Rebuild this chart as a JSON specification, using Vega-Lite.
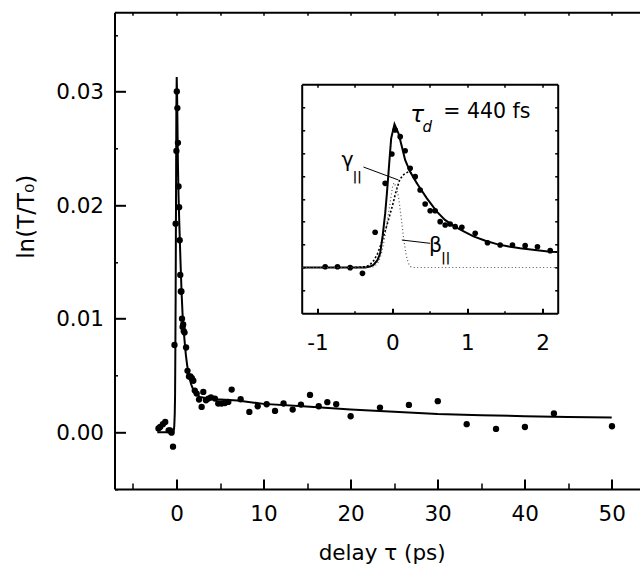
{
  "$schema": "https://vega.github.io/schema/vega-lite/v6.json",
  "autosize": {"type": "none"},
  "padding": {"left": 114.5, "top": 12.3, "right": 0, "bottom": 76},
  "width": 525.5,
  "height": 476.7,
  "background": "white",
  "config": {
    "view": {"stroke": null},
    "axis": {"grid": false, "labelFont": "DejaVu Sans", "labelFontSize": 21.5, "labelColor": "black", "tickColor": "black", "domainColor": "black", "titleFont": "DejaVu Sans", "titleFontSize": 21.5, "titleFontWeight": "normal", "titleColor": "black", "labelFlush": false, "labelOverlap": false, "domainWidth": 2, "tickWidth": 2}
  },
  "datasets": {
    "pts": [
      {"t": -2.07, "v": 0.00033}, {"t": -1.87, "v": 0.00047}, {"t": -1.56, "v": 0.00071}, {"t": -1.29, "v": 0.00091},
      {"t": -0.897, "v": 0.00017}, {"t": -0.733, "v": 0.00017}, {"t": -0.564, "v": -0.00004}, {"t": -0.4, "v": -0.00127},
      {"t": -0.231, "v": 0.00769}, {"t": -0.097, "v": 0.01838}, {"t": -0.008, "v": 0.02478}, {"t": 0.036, "v": 0.03002},
      {"t": 0.103, "v": 0.02856}, {"t": 0.169, "v": 0.0255}, {"t": 0.236, "v": 0.02166}, {"t": 0.303, "v": 0.01983},
      {"t": 0.369, "v": 0.01692}, {"t": 0.436, "v": 0.01386}, {"t": 0.503, "v": 0.0124}, {"t": 0.569, "v": 0.0124},
      {"t": 0.636, "v": 0.01}, {"t": 0.703, "v": 0.00928}, {"t": 0.769, "v": 0.0095}, {"t": 0.836, "v": 0.00891},
      {"t": 0.925, "v": 0.00878}, {"t": 1.103, "v": 0.00747}, {"t": 1.267, "v": 0.00541}, {"t": 1.436, "v": 0.00491},
      {"t": 1.6, "v": 0.00491}, {"t": 1.769, "v": 0.00476}, {"t": 1.933, "v": 0.00454}, {"t": 2.103, "v": 0.00367},
      {"t": 2.32, "v": 0.00341}, {"t": 2.59, "v": 0.00288}, {"t": 2.89, "v": 0.00223}, {"t": 3.08, "v": 0.00355},
      {"t": 3.39, "v": 0.00282}, {"t": 3.66, "v": 0.00297}, {"t": 3.96, "v": 0.00306}, {"t": 4.42, "v": 0.00297},
      {"t": 4.8, "v": 0.00253}, {"t": 5.19, "v": 0.00253}, {"t": 5.57, "v": 0.00258}, {"t": 5.95, "v": 0.00267},
      {"t": 6.34, "v": 0.00376}, {"t": 7.37, "v": 0.00291}, {"t": 8.37, "v": 0.00179}, {"t": 9.33, "v": 0.00229},
      {"t": 10.36, "v": 0.00247}, {"t": 11.32, "v": 0.00188}, {"t": 12.3, "v": 0.00253}, {"t": 13.35, "v": 0.002},
      {"t": 14.3, "v": 0.00244}, {"t": 15.34, "v": 0.00329}, {"t": 16.34, "v": 0.00229}, {"t": 17.33, "v": 0.00265},
      {"t": 18.35, "v": 0.00247}, {"t": 20.01, "v": 0.00141}, {"t": 23.38, "v": 0.00217}, {"t": 26.7, "v": 0.00241},
      {"t": 30.02, "v": 0.00274}, {"t": 33.34, "v": 0.00071}, {"t": 36.71, "v": 0.00029}, {"t": 40.03, "v": 0.00046},
      {"t": 43.36, "v": 0.00165}, {"t": 50.03, "v": 0.00053}
    ],
    "fit": [
      {"t": -2.2, "v": 0}, {"t": -1.2, "v": 0}, {"t": -0.36, "v": 0}, {"t": -0.3, "v": 0.0002},
      {"t": -0.253, "v": 0.00055}, {"t": -0.2, "v": 0.0016}, {"t": -0.164, "v": 0.0031}, {"t": -0.13, "v": 0.007},
      {"t": -0.097, "v": 0.0118}, {"t": -0.075, "v": 0.016}, {"t": -0.053, "v": 0.0206}, {"t": -0.035, "v": 0.0245},
      {"t": -0.017, "v": 0.0282}, {"t": 0.027, "v": 0.0313}, {"t": 0.08, "v": 0.0293}, {"t": 0.125, "v": 0.0264},
      {"t": 0.169, "v": 0.0235}, {"t": 0.236, "v": 0.0209}, {"t": 0.325, "v": 0.0184}, {"t": 0.459, "v": 0.0151},
      {"t": 0.592, "v": 0.0122}, {"t": 0.7, "v": 0.0104}, {"t": 0.813, "v": 0.0091}, {"t": 0.95, "v": 0.0079},
      {"t": 1.08, "v": 0.0068}, {"t": 1.23, "v": 0.0059}, {"t": 1.392, "v": 0.0051}, {"t": 1.55, "v": 0.0046},
      {"t": 1.703, "v": 0.0042}, {"t": 1.9, "v": 0.0038}, {"t": 2.103, "v": 0.00345}, {"t": 2.2, "v": 0.0034},
      {"t": 2.7, "v": 0.0031}, {"t": 3.5, "v": 0.003}, {"t": 4.6, "v": 0.0029}, {"t": 7, "v": 0.0028},
      {"t": 10, "v": 0.0025}, {"t": 14.5, "v": 0.0023}, {"t": 20, "v": 0.002}, {"t": 25, "v": 0.0018},
      {"t": 30, "v": 0.0016}, {"t": 35, "v": 0.0015}, {"t": 40, "v": 0.00142}, {"t": 45, "v": 0.00135},
      {"t": 50, "v": 0.0013}
    ],
    "gamma": [
      {"t": -0.5, "v": 0}, {"t": -0.35, "v": 0.0002}, {"t": -0.3, "v": 0.0006}, {"t": -0.25, "v": 0.0015},
      {"t": -0.2, "v": 0.003}, {"t": -0.15, "v": 0.0052}, {"t": -0.1, "v": 0.0078}, {"t": -0.05, "v": 0.0106},
      {"t": 0, "v": 0.0135}, {"t": 0.05, "v": 0.0168}, {"t": 0.1, "v": 0.0193}, {"t": 0.15, "v": 0.0203},
      {"t": 0.2, "v": 0.0208}, {"t": 0.24, "v": 0.0208}, {"t": 0.325, "v": 0.0184}
    ],
    "beta": [
      {"t": -1.2, "v": 0}, {"t": -0.3, "v": 0}, {"t": -0.25, "v": 0.0002}, {"t": -0.2, "v": 0.0008},
      {"t": -0.15, "v": 0.0028}, {"t": -0.1, "v": 0.0067}, {"t": -0.05, "v": 0.0122}, {"t": 0, "v": 0.0175},
      {"t": 0.02, "v": 0.0185}, {"t": 0.05, "v": 0.0176}, {"t": 0.08, "v": 0.0155}, {"t": 0.1, "v": 0.013},
      {"t": 0.125, "v": 0.0097}, {"t": 0.15, "v": 0.0062}, {"t": 0.183, "v": 0.0027}, {"t": 0.21, "v": 0.001},
      {"t": 0.24, "v": 0.0002}, {"t": 0.27, "v": 0}, {"t": 2.2, "v": 0}
    ],
    "leaders": [
      {"t": -0.387, "v": 0.02194, "t2": 0.08, "v2": 0.0191},
      {"t": 0.125, "v": 0.006, "t2": 0.503, "v2": 0.00528}
    ],
    "names": [
      {"t": -0.6, "v": 0.0232, "s": "γ"},
      {"t": 0.575, "v": 0.0048, "s": "β"},
      {"t": 1.259, "v": 0.03395, "s": "= 440 fs"}
    ],
    "subs": [
      {"t": -0.47, "v": 0.0198, "s": "||"},
      {"t": 0.71, "v": 0.0020, "s": "||"}
    ],
    "tau": [{"t": 0.33, "v": 0.0333, "s": "τ"}],
    "tausub": [{"t": 0.465, "v": 0.0306, "s": "d"}]
  },
  "resolve": {"scale": {"x": "independent", "y": "independent"}, "axis": {"x": "independent", "y": "independent"}},
  "layer": [
    {
      "data": {"name": "pts"},
      "mark": {"type": "circle", "size": 40, "color": "black", "opacity": 1},
      "encoding": {
        "x": {"field": "t", "type": "quantitative", "scale": {"domain": [-7.12, 53.25], "nice": false, "zero": false},
          "axis": {"orient": "bottom", "values": [0, 10, 20, 30, 40, 50], "tickSize": -10, "labelPadding": 24, "title": "delay τ (ps)", "titleX": 267.2, "titleY": 70, "titleBaseline": "alphabetic", "titleAlign": "center"}},
        "y": {"field": "v", "type": "quantitative", "scale": {"domain": [-0.005, 0.037], "nice": false, "zero": false},
          "axis": {"orient": "left", "values": [0, 0.01, 0.02, 0.03], "format": ".2f", "tickSize": -11, "labelPadding": 22, "labelOffset": 1, "title": "ln(T/T₀)", "titleFontSize": 23, "titleX": -81.5, "titleY": 204, "titleBaseline": "alphabetic", "titleAlign": "center", "titleAngle": -90}}
      }
    },
    {
      "data": {"name": "fit"},
      "mark": {"type": "line", "color": "black", "strokeWidth": 2},
      "encoding": {
        "x": {"field": "t", "type": "quantitative", "scale": {"domain": [-7.12, 53.25], "nice": false, "zero": false},
          "axis": {"orient": "bottom", "values": [-5, 5, 15, 25, 35, 45], "tickSize": -6, "tickWidth": 1.5, "labels": false, "domain": false, "title": null}},
        "y": {"field": "v", "type": "quantitative", "scale": {"domain": [-0.005, 0.037], "nice": false, "zero": false},
          "axis": {"orient": "left", "values": [-0.005, 0.005, 0.015, 0.025, 0.035], "tickSize": -3, "tickWidth": 1.5, "labels": false, "domain": false, "title": null}}
      }
    },
    {
      "data": {"name": "pts"},
      "mark": {"type": "circle", "size": 1, "opacity": 0},
      "encoding": {
        "x": {"field": "t", "type": "quantitative", "scale": {"domain": [-7.12, 53.25], "nice": false, "zero": false},
          "axis": {"orient": "top", "values": [-5, 0, 5, 10, 15, 20, 25, 30, 35, 40, 45, 50], "tickSize": -3, "tickWidth": 1.5, "labels": false, "title": null}},
        "y": {"field": "v", "type": "quantitative", "scale": {"domain": [-0.005, 0.037], "nice": false, "zero": false}, "axis": null}
      }
    },
    {
      "data": {"name": "pts"},
      "transform": [{"filter": "datum.t >= -1.21 && datum.t <= 2.21"}],
      "mark": {"type": "circle", "size": 32, "color": "black", "opacity": 1},
      "encoding": {
        "x": {"field": "t", "type": "quantitative", "scale": {"domain": [-1.21, 2.203], "range": [187.2, 443.2], "nice": false, "zero": false},
          "axis": {"orient": "bottom", "offset": -175.7, "values": [-1, 0, 1, 2], "labelExpr": "datum.value < 0 ? '-' + abs(datum.value) : datum.label", "tickSize": -5, "labelPadding": 24, "title": null}},
        "y": {"field": "v", "type": "quantitative", "scale": {"domain": [-0.01, 0.04], "range": [301, 72], "nice": false, "zero": false},
          "axis": {"orient": "left", "offset": -187.2, "values": [-0.005, 0, 0.005, 0.01, 0.015, 0.02, 0.025, 0.03, 0.035], "tickSize": -3, "tickWidth": 1.5, "labels": false, "title": null}}
      }
    },
    {
      "data": {"name": "fit"},
      "transform": [{"filter": "datum.t >= -1.21 && datum.t <= 2.21"}],
      "mark": {"type": "line", "color": "black", "strokeWidth": 2},
      "encoding": {
        "x": {"field": "t", "type": "quantitative", "scale": {"domain": [-1.21, 2.203], "range": [187.2, 443.2], "nice": false, "zero": false},
          "axis": {"orient": "bottom", "offset": -175.7, "values": [-0.5, 0.5, 1.5], "tickSize": -2.5, "tickWidth": 1.5, "labels": false, "domain": false, "title": null}},
        "y": {"field": "v", "type": "quantitative", "scale": {"domain": [-0.01, 0.04], "range": [301, 72], "nice": false, "zero": false},
          "axis": {"orient": "right", "offset": -82.3, "values": [-0.005, 0, 0.005, 0.01, 0.015, 0.02, 0.025, 0.03, 0.035], "tickSize": -3, "tickWidth": 1.5, "labels": false, "title": null}}
      }
    },
    {
      "data": {"name": "gamma"},
      "mark": {"type": "line", "color": "black", "strokeWidth": 1.6, "strokeDash": [2, 2]},
      "encoding": {
        "x": {"field": "t", "type": "quantitative", "scale": {"domain": [-1.21, 2.203], "range": [187.2, 443.2], "nice": false, "zero": false},
          "axis": {"orient": "top", "offset": -72, "values": [-1, -0.5, 0, 0.5, 1, 1.5, 2], "tickSize": -3, "tickWidth": 1.5, "labels": false, "title": null}},
        "y": {"field": "v", "type": "quantitative", "scale": {"domain": [-0.01, 0.04], "range": [301, 72], "nice": false, "zero": false}, "axis": null}
      }
    },
    {
      "data": {"name": "beta"},
      "mark": {"type": "line", "color": "#555555", "strokeWidth": 1.2, "strokeDash": [1, 2.5]},
      "encoding": {
        "x": {"field": "t", "type": "quantitative", "scale": {"domain": [-1.21, 2.203], "range": [187.2, 443.2], "nice": false, "zero": false}, "axis": null},
        "y": {"field": "v", "type": "quantitative", "scale": {"domain": [-0.01, 0.04], "range": [301, 72], "nice": false, "zero": false}, "axis": null}
      }
    },
    {
      "data": {"name": "leaders"},
      "mark": {"type": "rule", "color": "black", "strokeWidth": 1},
      "encoding": {
        "x": {"field": "t", "type": "quantitative", "scale": {"domain": [-1.21, 2.203], "range": [187.2, 443.2], "nice": false, "zero": false}, "axis": null},
        "y": {"field": "v", "type": "quantitative", "scale": {"domain": [-0.01, 0.04], "range": [301, 72], "nice": false, "zero": false}, "axis": null},
        "x2": {"field": "t2"},
        "y2": {"field": "v2"}
      }
    },
    {
      "data": {"name": "names"},
      "mark": {"type": "text", "font": "DejaVu Sans", "fontSize": 20.5, "color": "black", "align": "center", "baseline": "middle"},
      "encoding": {
        "x": {"field": "t", "type": "quantitative", "scale": {"domain": [-1.21, 2.203], "range": [187.2, 443.2], "nice": false, "zero": false}, "axis": null},
        "y": {"field": "v", "type": "quantitative", "scale": {"domain": [-0.01, 0.04], "range": [301, 72], "nice": false, "zero": false}, "axis": null},
        "text": {"field": "s"}
      }
    },
    {
      "data": {"name": "subs"},
      "mark": {"type": "text", "font": "DejaVu Sans", "fontSize": 12, "fontWeight": "bold", "color": "black", "opacity": 0.99, "align": "center", "baseline": "middle"},
      "encoding": {
        "x": {"field": "t", "type": "quantitative", "scale": {"domain": [-1.21, 2.203], "range": [187.2, 443.2], "nice": false, "zero": false}, "axis": null},
        "y": {"field": "v", "type": "quantitative", "scale": {"domain": [-0.01, 0.04], "range": [301, 72], "nice": false, "zero": false}, "axis": null},
        "text": {"field": "s"}
      }
    },
    {
      "data": {"name": "tau"},
      "mark": {"type": "text", "font": "DejaVu Sans", "fontSize": 23, "fontStyle": "italic", "color": "black", "align": "center", "baseline": "middle"},
      "encoding": {
        "x": {"field": "t", "type": "quantitative", "scale": {"domain": [-1.21, 2.203], "range": [187.2, 443.2], "nice": false, "zero": false}, "axis": null},
        "y": {"field": "v", "type": "quantitative", "scale": {"domain": [-0.01, 0.04], "range": [301, 72], "nice": false, "zero": false}, "axis": null},
        "text": {"field": "s"}
      }
    },
    {
      "data": {"name": "tausub"},
      "mark": {"type": "text", "font": "DejaVu Sans", "fontSize": 15, "fontStyle": "italic", "color": "black", "align": "center", "baseline": "middle"},
      "encoding": {
        "x": {"field": "t", "type": "quantitative", "scale": {"domain": [-1.21, 2.203], "range": [187.2, 443.2], "nice": false, "zero": false}, "axis": null},
        "y": {"field": "v", "type": "quantitative", "scale": {"domain": [-0.01, 0.04], "range": [301, 72], "nice": false, "zero": false}, "axis": null},
        "text": {"field": "s"}
      }
    }
  ]
}
